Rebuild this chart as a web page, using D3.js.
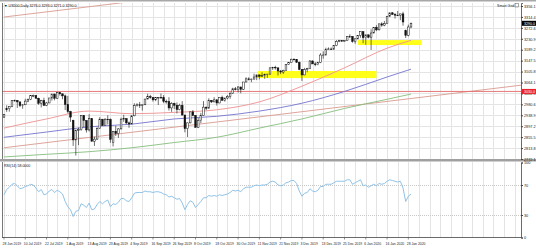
<!DOCTYPE html>
<html><head><meta charset="utf-8">
<script src="https://cdn.jsdelivr.net/npm/d3@7"></script>
<style>
body{margin:0;background:#fff}
svg{display:block;font-family:"Liberation Sans",Arial,sans-serif}
</style></head><body><div id="chart"></div>
<script>
// daily bars US500, 28 Jun 2019 -> 29 Jan 2020 (one bar per weekday)
const opens = [2932,2960,2964,2973,2995,2996,2990,2976,2979,2993,3000,3014,3014,3004,2985,2995,2977,2986,3005,3020,3004,3026,3021,3013,2980,2953,2920,2845,2882,2884,2938,2919,2883,2926,2840,2848,2889,2924,2900,2924,2923,2835,2878,2869,2887,2924,2926,2910,2906,2937,2976,2979,2978,2979,3001,3010,3007,2998,3006,3007,3006,2992,2991,2967,2984,2977,2961,2977,2940,2888,2910,2952,2938,2893,2919,2938,2970,2966,2996,2990,2998,2986,3007,2996,3005,3011,3023,3040,3037,3047,3038,3066,3078,3075,3077,3085,3093,3087,3091,3094,3096,3120,3122,3120,3108,3104,3110,3133,3141,3153,3152,3141,3114,3093,3113,3117,3146,3135,3132,3141,3169,3169,3191,3192,3191,3205,3221,3224,3223,3224,3240,3240,3221,3231,3243,3258,3235,3246,3237,3253,3275,3265,3288,3283,3289,3317,3330,3324,3321,3321,3326,3262,3244,3276];
const highs = [2943,2977,2974,2995,2999,2996,2991,2981,3002,3003,3015,3018,3016,3006,2998,3006,2990,3005,3020,3021,3028,3027,3021,3018,3013,2956,2922,2884,2892,2939,2940,2920,2943,2928,2857,2893,2932,2925,2928,2939,2927,2879,2899,2890,2930,2941,2928,2915,2938,2985,2985,2990,2980,3001,3021,3017,3007,3006,3008,3022,3016,2999,3008,2989,2987,2988,2983,2993,2941,2911,2953,2959,2940,2929,2948,2993,2972,3004,2997,3008,3000,3008,3014,3005,3016,3027,3044,3047,3050,3048,3066,3084,3084,3079,3098,3094,3094,3103,3098,3097,3121,3124,3128,3121,3112,3113,3133,3142,3155,3156,3153,3144,3115,3120,3120,3150,3149,3142,3143,3176,3183,3197,3198,3198,3206,3226,3227,3226,3226,3240,3248,3241,3231,3245,3258,3258,3246,3247,3267,3275,3283,3288,3294,3299,3317,3330,3333,3329,3337,3326,3334,3266,3285,3293];
const lows = [2929,2952,2953,2970,2991,2967,2970,2964,2978,2989,2997,3008,3003,2979,2969,2975,2974,2985,2995,2996,3002,3014,3000,2959,2946,2914,2822,2785,2825,2880,2893,2873,2877,2839,2822,2845,2888,2899,2898,2904,2834,2820,2860,2853,2885,2914,2905,2891,2905,2935,2972,2967,2957,2978,3000,3002,2991,2993,2978,3004,2985,2983,2957,2952,2963,2946,2958,2938,2874,2856,2908,2935,2892,2890,2909,2938,2959,2965,2986,2989,2976,2985,2995,2991,3000,3002,3022,3034,3026,3023,3036,3065,3072,3065,3076,3073,3076,3085,3078,3082,3095,3112,3113,3091,3096,3097,3110,3131,3140,3148,3139,3111,3070,3092,3103,3116,3135,3126,3130,3138,3155,3168,3189,3189,3190,3203,3218,3220,3221,3222,3234,3216,3212,3229,3235,3214,3208,3233,3188,3252,3260,3263,3277,3279,3288,3315,3322,3308,3318,3302,3281,3234,3240,3271];
const closes = [2942,2964,2973,2995,2996,2990,2976,2979,2993,3000,3014,3014,3004,2985,2995,2977,2986,3005,3020,3004,3026,3021,3013,2980,2953,2932,2845,2882,2884,2938,2919,2883,2926,2840,2848,2889,2924,2900,2924,2923,2847,2878,2869,2887,2924,2926,2910,2906,2937,2976,2979,2978,2979,3001,3010,3007,2998,3006,3007,3006,2992,2991,2967,2984,2977,2961,2977,2940,2888,2910,2952,2938,2893,2919,2938,2970,2966,2996,2990,2998,2986,3007,2996,3005,3011,3023,3040,3037,3047,3038,3066,3078,3075,3077,3085,3093,3087,3091,3094,3096,3120,3122,3120,3108,3104,3110,3133,3141,3153,3152,3141,3114,3093,3113,3117,3146,3135,3132,3141,3169,3169,3191,3192,3191,3205,3221,3224,3223,3224,3240,3240,3221,3231,3243,3258,3235,3246,3237,3253,3275,3265,3288,3283,3289,3317,3330,3324,3321,3321,3326,3295,3244,3276,3290];

// RSI(14)
const rsi = [57,64,67,71,72,69,65,66,68,69,71,70,66,61,64,57,58,62,64,60,63,61,58,48,41,37,28,35,36,45,43,40,46,37,38,44,48,45,48,50,41,45,44,47,52,52,49,48,53,59,60,60,60,62,61,61,60,61,61,60,58,57,54,55,53,51,52,46,37,44,49,47,40,44,48,53,53,56,55,56,55,57,56,57,58,60,63,62,63,61,65,67,67,67,69,70,69,70,70,71,74,75,74,70,69,70,73,74,76,76,72,62,55,59,60,65,62,61,63,68,68,71,71,71,73,75,75,75,75,77,77,71,73,75,77,69,70,67,69,71,69,72,71,72,75,77,76,75,74,75,66,48,55,58];

// moving averages, sampled at bar indices
const maBars = [0,16,32,48,64,80,96,112,128,144,153];
const ma50 = [2890,2925,2955,2945,2950,2960,2990,3050,3120,3195,3225];
const ma100 = [2855,2875,2895,2905,2925,2935,2955,2985,3030,3085,3115];
const ma200 = [2780,2790,2800,2815,2835,2855,2890,2925,2965,3000,3020];

// drawn objects
const levels = [3030];
const trendLines = [[0,2815,153,3003],[0,3314,153,3502]];
const zones = [[95.5,3108,140,3081],[133,3226,157,3207]];

const priceTicks = [3356.1,3314.4,3272.6,3230.9,3189.2,3147.5,3105.8,3064.1,3022.3,2980.6,2938.9,2897.2,2855.5,2813.8,2772.1];
const rsiTicks = [100,70,30,0];
const dateBars = [0,8,16,24,32,40,48,56,64,72,80,88,96,104,112,120,128,136,144,152];
const dateLabels = ["28 Jun 2019","10 Jul 2019","22 Jul 2019","1 Aug 2019","13 Aug 2019","23 Aug 2019","4 Sep 2019","16 Sep 2019","26 Sep 2019","8 Oct 2019","18 Oct 2019","30 Oct 2019","11 Nov 2019","21 Nov 2019","3 Dec 2019","13 Dec 2019","25 Dec 2019","6 Jan 2020","16 Jan 2020","28 Jan 2020"];

const W = 536, H = 249;
const pl = 2, pr = 521, mt = 3, mb = 159, st = 162, sb = 237.5;

const svg = d3.select("#chart").append("svg").attr("width", W).attr("height", H);

const x = d3.scaleLinear().domain([0, 153]).range([4, 411]);
const y = d3.scaleLinear().domain([2772.1, 3367.5]).range([mb, mt]);
const yr = d3.scaleLinear().domain([0, 100]).range([sb, st + 0.5]);
const bw = 1.7;

svg.append("clipPath").attr("id", "cm").append("rect").attr("x", pl).attr("y", mt).attr("width", pr - pl).attr("height", mb - mt);
svg.append("clipPath").attr("id", "cs").append("rect").attr("x", pl).attr("y", st).attr("width", pr - pl).attr("height", sb - st);

// top frame + separator
svg.append("rect").attr("x", 0).attr("y", 0).attr("width", W).attr("height", 1.5).attr("fill", "#a8a8a8");
svg.append("rect").attr("x", 0).attr("y", mb).attr("width", W).attr("height", 2.5).attr("fill", "#a0a0a0");

const gm = svg.append("g").attr("clip-path", "url(#cm)");
const gs = svg.append("g").attr("clip-path", "url(#cs)");

// grid
const gridBars = d3.range(0, 196, 4);
[[gm, mt, mb], [gs, st, sb]].forEach(([g, t, b]) => {
  g.selectAll(null).data(gridBars).join("line")
    .attr("x1", d => Math.round(x(d)) + 0.5).attr("x2", d => Math.round(x(d)) + 0.5)
    .attr("y1", t).attr("y2", b).attr("stroke", "#e4e4e4").attr("stroke-width", 1);
});
gm.selectAll(null).data(priceTicks).join("line")
  .attr("x1", pl).attr("x2", pr).attr("y1", d => Math.round(y(d)) + 0.5).attr("y2", d => Math.round(y(d)) + 0.5)
  .attr("stroke", "#e4e4e4");
gs.selectAll(null).data([70, 30]).join("line")
  .attr("x1", pl).attr("x2", pr).attr("y1", d => Math.round(yr(d)) + 0.5).attr("y2", d => Math.round(yr(d)) + 0.5)
  .attr("stroke", "#c8c8c8").attr("stroke-dasharray", "1,1");

// yellow zones
gm.selectAll(null).data(zones).join("rect")
  .attr("x", d => x(d[0])).attr("y", d => y(d[1]))
  .attr("width", d => x(d[2]) - x(d[0])).attr("height", d => y(d[3]) - y(d[1]))
  .attr("fill", "#ffff1a");

// trend lines (extended to the right edge)
gm.selectAll(null).data(trendLines).join("line")
  .attr("x1", d => x(d[0])).attr("y1", d => y(d[1]))
  .attr("x2", d => x(195)).attr("y2", d => y(d[1] + (d[3] - d[1]) / (d[2] - d[0]) * (195 - d[0])))
  .attr("stroke", "#d99a8e").attr("stroke-width", 0.9);
gm.selectAll(null).data(levels).join("line")
  .attr("x1", pl).attr("x2", pr).attr("y1", d => y(d)).attr("y2", d => y(d))
  .attr("stroke", "#e46a6a").attr("stroke-width", 0.9);

// moving averages
const maLine = d3.line().x((d, i) => x(maBars[i])).y(d => y(d)).curve(d3.curveMonotoneX);
[[ma200, "#86bd7e"], [ma100, "#7474cf"], [ma50, "#ee9090"]].forEach(([s, c]) => {
  gm.append("path").attr("d", maLine(s)).attr("fill", "none").attr("stroke", c).attr("stroke-width", 0.9);
});

// candles
const bars = d3.range(opens.length);
gm.selectAll(null).data(bars).join("line")
  .attr("x1", i => x(i)).attr("x2", i => x(i))
  .attr("y1", i => y(highs[i])).attr("y2", i => y(lows[i]))
  .attr("stroke", "#111").attr("stroke-width", 0.6);
gm.selectAll(null).data(bars).join("rect")
  .attr("x", i => x(i) - bw / 2)
  .attr("y", i => y(Math.max(opens[i], closes[i])))
  .attr("width", bw)
  .attr("height", i => Math.max(0.6, Math.abs(y(opens[i]) - y(closes[i]))))
  .attr("fill", i => closes[i] >= opens[i] ? "#fff" : "#111")
  .attr("stroke", "#111").attr("stroke-width", 0.5);

// rsi line
gs.append("path")
  .attr("d", d3.line().x((d, i) => x(i)).y(d => yr(d))(rsi))
  .attr("fill", "none").attr("stroke", "#8fc3e8").attr("stroke-width", 1);

// frames
[[mt, mb], [st, sb]].forEach(([t, b]) => {
  svg.append("line").attr("x1", pl + 0.5).attr("x2", pl + 0.5).attr("y1", t).attr("y2", b).attr("stroke", "#555").attr("stroke-width", 0.8);
});

// price axis
const ay = svg.append("g").attr("transform", `translate(${pr},0)`)
  .call(d3.axisRight(y).tickValues(priceTicks).tickSize(2).tickFormat(d => d.toFixed(1)));
const ar = svg.append("g").attr("transform", `translate(${pr},0)`)
  .call(d3.axisRight(yr).tickValues(rsiTicks).tickSize(2));
[ay, ar].forEach(a => {
  a.select(".domain").attr("stroke", "#444").attr("stroke-width", 0.8);
  a.selectAll(".tick line").attr("stroke", "#444");
  a.selectAll(".tick text").attr("x", 3).attr("font-size", 3.8).attr("fill", "#222");
});

// price tags on the axis
const tags = [[closes[closes.length - 1], "#000"], [levels[0], "#e8212b"]];
tags.forEach(([p, c]) => {
  const g = svg.append("g").attr("transform", `translate(${pr},${y(p)})`);
  g.append("rect").attr("x", 1).attr("y", -2.5).attr("width", 15).attr("height", 5).attr("fill", c);
  g.append("text").attr("x", 3).attr("y", 1.3).attr("font-size", 3.6).attr("fill", "#fff").text(p.toFixed(1));
});

// time axis
const ax = svg.append("g");
ax.selectAll(null).data(dateBars).join("line")
  .attr("x1", i => x(i)).attr("x2", i => x(i)).attr("y1", sb).attr("y2", sb + 2)
  .attr("stroke", "#444").attr("stroke-width", 0.6);
ax.selectAll(null).data(dateBars).join("text")
  .attr("x", i => x(i) - 1.5).attr("y", 244.5)
  .attr("font-size", 3.4).attr("fill", "#222")
  .text((d, i) => dateLabels[i]);
svg.append("line").attr("x1", pl).attr("x2", pr).attr("y1", sb).attr("y2", sb).attr("stroke", "#444").attr("stroke-width", 0.8);

// captions
const n = closes.length - 1;
svg.append("text").attr("x", 4).attr("y", 6.5).attr("font-size", 3.6).attr("fill", "#111")
  .text(`\u25BC US500,Daily  ${opens[n].toFixed(1)} ${highs[n].toFixed(1)} ${lows[n].toFixed(1)} ${closes[n].toFixed(1)}`);
svg.append("text").attr("x", 4).attr("y", 167).attr("font-size", 3.6).attr("fill", "#111")
  .text(`RSI(14) ${rsi[n].toFixed(4)}`);
svg.append("text").attr("x", 497).attr("y", 6.5).attr("font-size", 3.6).attr("fill", "#222").text("Smart Grid");
svg.append("rect").attr("x", 515).attr("y", 3.5).attr("width", 3.5).attr("height", 3.5).attr("fill", "none").attr("stroke", "#555").attr("stroke-width", 0.5);
</script></body></html>
